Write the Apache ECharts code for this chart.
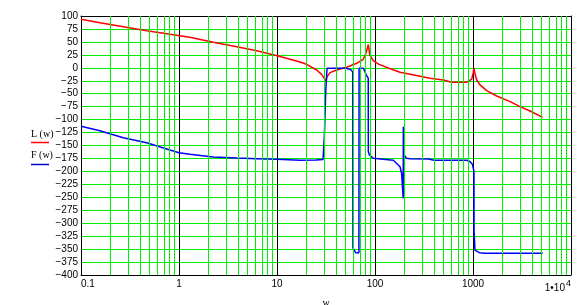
<!DOCTYPE html>
<html><head><meta charset="utf-8">
<script src="https://cdn.jsdelivr.net/npm/echarts@6/dist/echarts.min.js"></script>
<style>html,body{margin:0;padding:0;background:#fff}#c{width:588px;height:305px}</style>
</head><body><div id="c"></div><script>
// x tick values / labels (log axis)
const xTickValues = [0.1, 1, 10, 100, 1000, 10000];
const xTickLabels = ['0.1', '1', '10', '100', '1000', '1•10'];
const xTickSup = ['', '', '', '', '', '4'];
const yMin = -400, yMax = 100, yStep = 25;

// L(w) – magnitude (red)
const lW = [0.1, 0.156, 0.27, 0.468, 0.81, 1.29, 2.24, 3.88, 6.21, 10.07, 17.2, 20, 25.4, 28.5, 31.6, 32.5, 34.8, 40.8, 51.4, 65, 75.7, 80.8, 85.5, 88.5, 95.8, 110, 139, 180, 250, 364, 498, 607, 863, 970, 1005, 1023, 1050, 1091, 1178, 1380, 1745, 2390, 3020, 3820, 5140];
const lVal = [93.6, 87.1, 79.4, 71.7, 64.6, 58.8, 49.2, 40.8, 33.1, 23.4, 11.2, 6.7, -4.2, -12.6, -25, -17, -9.4, -4.2, 1, 8.7, 16.4, 28, 45, 24.7, 13.7, 6.7, -1, -8.7, -14, -20.3, -23.6, -28, -28, -22, -10, 0, -12, -23.6, -33, -44, -54.4, -65.4, -75, -83.4, -95.6];

// F(w) – phase (blue)
const fW = [0.1, 0.156, 0.27, 0.468, 0.81, 1, 1.29, 2.24, 3.88, 6.21, 10, 17.2, 25, 29.5, 30.4, 31.4, 32.4, 51, 57, 59.3, 59.6, 61.5, 63.5, 68.5, 68.8, 76, 79, 81.6, 85.3, 85.5, 87.6, 90.4, 95.9, 154, 160, 180, 187, 191, 194, 194.6, 199, 209, 226, 352, 400, 863, 930, 985, 1023, 1025, 1047, 1091, 1160, 1325, 5140];
const fVal = [-113, -121.4, -134.9, -144.6, -158.7, -163.9, -167, -172.2, -174.1, -175.4, -176.7, -178.6, -178, -177, -134, -48, -1, -1, -4, -8, -348, -352, -357, -357, -1, -1, -7.5, -14, -20, -162, -168, -171.6, -174.7, -178.6, -181, -191, -204, -207, -252, -114, -168, -174.7, -175.5, -176, -178.6, -178.6, -181, -186, -200, -313, -352, -355, -357, -358, -358];

const GREEN = '#00ee00';
const minorLines = [];
for (let d = 0; d < xTickValues.length - 1; d++) {
  for (let k = 2; k <= 9; k++) minorLines.push({ xAxis: +(xTickValues[d] * k).toPrecision(6) });
}

const chart = echarts.init(document.getElementById('c'), null, { renderer: 'canvas' });
const labelFont = { fontFamily: 'Liberation Sans, Arial, sans-serif', fontSize: 10, color: '#000' };

chart.setOption({
  animation: false,
  backgroundColor: '#fff',
  grid: { left: 81, right: 17, top: 16, bottom: 30, containLabel: false, outerBoundsMode: 'none' },
  xAxis: [{
    type: 'log', logBase: 10, min: 0.1, max: 10000, splitNumber: 5,
    name: 'w', nameLocation: 'middle', nameGap: 17,
    nameTextStyle: { fontFamily: 'Liberation Serif, serif', fontSize: 10, color: '#000' },
    axisLine: { show: true, onZero: false, lineStyle: { color: '#000', width: 1 } },
    axisTick: { show: false },
    axisLabel: Object.assign({
      margin: 4, alignMinLabel: 'left', alignMaxLabel: 'right',
      formatter: function (v) {
        let best = 0, bd = Infinity;
        xTickValues.forEach((t, i) => { const d = Math.abs(Math.log10(v) - Math.log10(t)); if (d < bd) { bd = d; best = i; } });
        return xTickSup[best] ? '{n|' + xTickLabels[best] + '}{s|' + xTickSup[best] + '}' : xTickLabels[best];
      },
      rich: {
        n: { fontFamily: 'Liberation Sans, Arial, sans-serif', fontSize: 10, color: '#000' },
        s: { fontFamily: 'Liberation Sans, Arial, sans-serif', fontSize: 9, color: '#000', padding: [0, 0, 9, 1] }
      }
    }, labelFont),
    splitLine: { show: true, showMinLine: false, showMaxLine: false, lineStyle: { color: '#000', width: 1 } }
  }, {
    type: 'log', logBase: 10, min: 0.1, max: 10000, position: 'top',
    axisLine: { show: true, onZero: false, lineStyle: { color: '#000', width: 1 } },
    axisTick: { show: false }, axisLabel: { show: false }, splitLine: { show: false }
  }],
  yAxis: [{
    type: 'value', min: yMin, max: yMax, interval: yStep,
    axisLine: { show: true, onZero: false, lineStyle: { color: '#000', width: 1 } },
    axisTick: { show: false },
    axisLabel: Object.assign({
      margin: 3,
      formatter: v => v < 0 ? '\u2212' + Math.abs(v) : String(v)
    }, labelFont),
    splitLine: { show: true, showMinLine: false, showMaxLine: false, lineStyle: { color: GREEN, width: 1 } }
  }, {
    type: 'value', min: yMin, max: yMax, interval: yStep, position: 'right',
    axisLine: { show: true, onZero: false, lineStyle: { color: '#000', width: 1 } },
    axisTick: { show: false }, axisLabel: { show: false }, splitLine: { show: false }
  }],
  graphic: [
    { type: 'text', left: 31, top: 129, style: { text: 'L (w)', font: '10px "Liberation Serif", serif', fill: '#000' } },
    { type: 'line', shape: { x1: 31, y1: 142.5, x2: 49, y2: 142.5 }, style: { stroke: '#ff0000', lineWidth: 1.5 } },
    { type: 'text', left: 31, top: 150, style: { text: 'F (w)', font: '10px "Liberation Serif", serif', fill: '#000' } },
    { type: 'line', shape: { x1: 31, y1: 164.5, x2: 49, y2: 164.5 }, style: { stroke: '#0000cc', lineWidth: 1.5 } }
  ],
  series: [{
    type: 'line', name: 'grid', data: [], z: 1, silent: true,
    markLine: {
      silent: true, symbol: 'none', animation: false,
      label: { show: false },
      lineStyle: { color: GREEN, width: 1, type: 'solid' },
      emphasis: { disabled: true },
      data: minorLines
    }
  }, {
    type: 'line', name: 'L(w)', z: 3,
    data: lW.map((w, i) => [w, lVal[i]]),
    showSymbol: false, symbol: 'none',
    lineStyle: { color: '#ff0000', width: 1.5 }, itemStyle: { color: '#ff0000' }
  }, {
    type: 'line', name: 'F(w)', z: 3,
    data: fW.map((w, i) => [w, fVal[i]]),
    showSymbol: false, symbol: 'none',
    lineStyle: { color: '#0000ff', width: 1.5 }, itemStyle: { color: '#0000ff' }
  }]
});
</script></body></html>
